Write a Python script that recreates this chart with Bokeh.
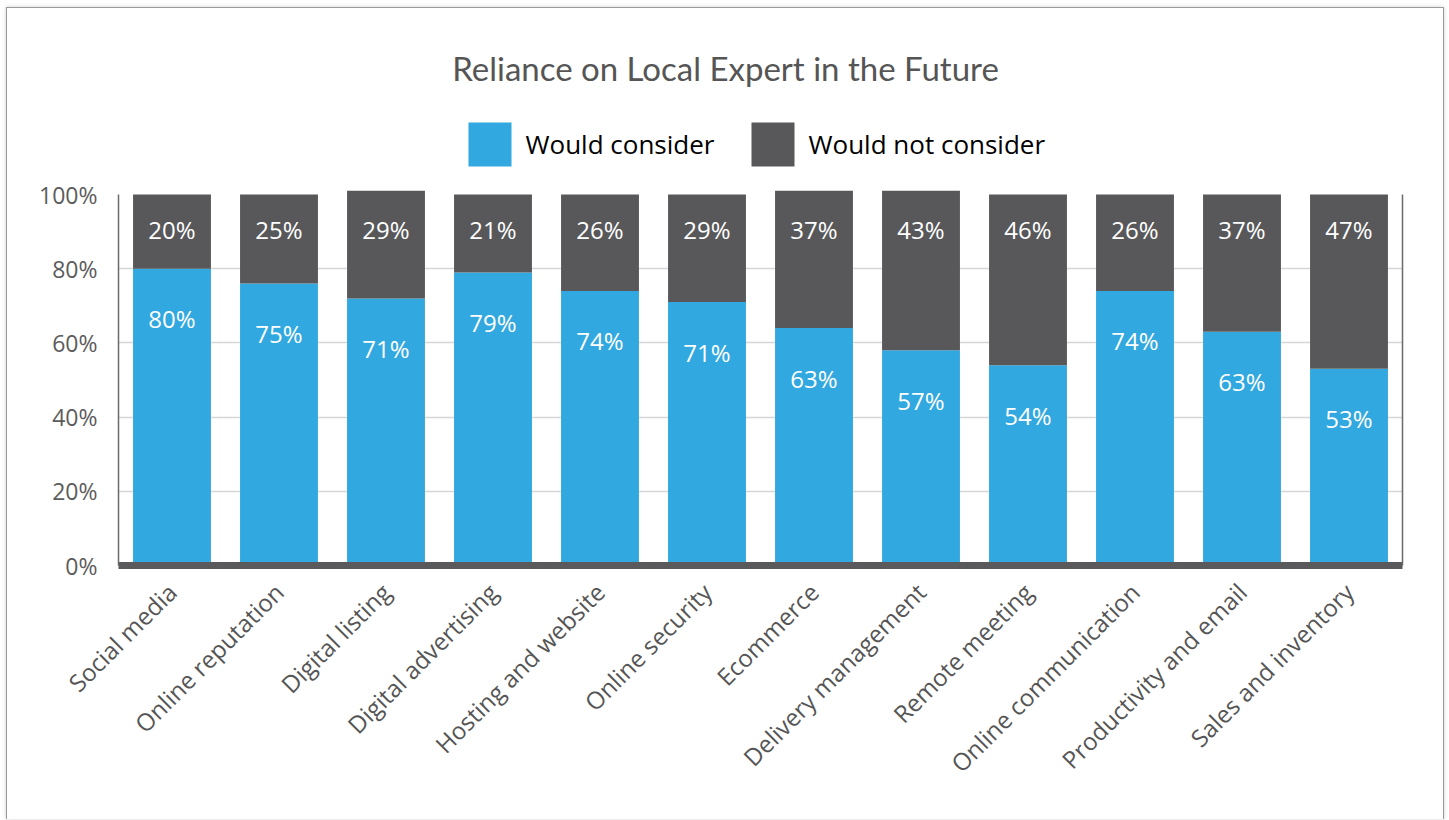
import numpy as np
from bokeh.plotting import figure
from bokeh.models import (ColumnDataSource, FactorRange, Range1d, FixedTicker,
                          LinearAxis, Label, BoxAnnotation, CustomJSTickFormatter)
from bokeh.core.properties import value
from bokeh.embed import file_html
from bokeh.resources import INLINE

categories = ["Social media", "Online reputation", "Digital listing", "Digital advertising",
              "Hosting and website", "Online security", "Ecommerce", "Delivery management",
              "Remote meeting", "Online communication", "Productivity and email",
              "Sales and inventory"]
# bar heights as drawn (percent)
would_consider = [80, 76, 72, 79, 74, 71, 64, 58, 54, 74, 63, 53]
would_not_consider = [20, 24, 29, 21, 26, 29, 37, 43, 46, 26, 37, 47]
# printed data labels
consider_labels = [80, 75, 71, 79, 74, 71, 63, 57, 54, 74, 63, 53]
not_consider_labels = [20, 25, 29, 21, 26, 29, 37, 43, 46, 26, 37, 47]
y_ticks = [0, 20, 40, 60, 80, 100]
title_text = "Reliance on Local Expert in the Future"
series_names = ["Would consider", "Would not consider"]

BLUE = "#31a8e0"
GRAY = "#58585a"

src = ColumnDataSource(dict(
    cat=categories,
    c=would_consider,
    top=[a + b for a, b in zip(would_consider, would_not_consider)],
    clab=[f"{v}%" for v in consider_labels],
    nlab=[f"{v}%" for v in not_consider_labels],
    full=[100] * len(categories),
))

# page geometry (page pixels)
ORIGIN_X, ORIGIN_Y = 7, 8
W, H = 1438, 812
FRAME_L, FRAME_R, FRAME_T, FRAME_B = 118, 1402, 20, 565
PX_PER_UNIT = (565 - 194) / 100.0
y_end = (FRAME_B - FRAME_T) / PX_PER_UNIT

p = figure(width=W, height=H, x_range=FactorRange(*categories, range_padding=0),
           y_range=Range1d(0, y_end), output_backend="svg", toolbar_location=None,
           min_border_left=FRAME_L - ORIGIN_X, min_border_right=ORIGIN_X + W - FRAME_R,
           min_border_top=FRAME_T - ORIGIN_Y, min_border_bottom=ORIGIN_Y + H - FRAME_B)
p.styles = {"margin-left": "6px", "margin-top": "7px",
            "border-left": "1px solid #9a9a9a", "border-top": "1px solid #9a9a9a",
            "border-right": "1px solid #9a9a9a",
            "box-shadow": "0 0 4px #d0d0d0"}
p.outline_line_color = None
p.background_fill_color = "white"
p.border_fill_color = "white"

p.vbar(x="cat", bottom=0, top="c", width=0.728, source=src, fill_color=BLUE, line_color=None)
p.vbar(x="cat", bottom="c", top="top", width=0.728, source=src, fill_color=GRAY, line_color=None)

p.text(x="cat", y="c", text="clab", source=src, y_offset=50, text_align="center",
       text_baseline="middle", text_color="white", text_font=value("Open Sans"),
       text_font_size="24px")
p.text(x="cat", y="full", text="nlab", source=src, y_offset=35, text_align="center",
       text_baseline="middle", text_color="white", text_font=value("Open Sans"),
       text_font_size="24px")

# grid
p.xgrid.grid_line_color = None
p.ygrid.ticker = FixedTicker(ticks=[20, 40, 60, 80])
p.ygrid.grid_line_color = "#d6d6d6"
p.ygrid.grid_line_width = 1.5

# y axis (left)
yax = p.yaxis[0]
yax.ticker = FixedTicker(ticks=y_ticks)
yax.formatter = CustomJSTickFormatter(code="return tick + '%';")
yax.bounds = (0, 100)
yax.axis_line_color = "#6a6a6a"
yax.axis_line_width = 1.5
yax.major_tick_line_color = None
yax.minor_tick_line_color = None
yax.major_tick_out = 0
yax.major_tick_in = 0
yax.major_label_standoff = 21
yax.major_label_text_font = "Open Sans"
yax.major_label_text_font_size = "23px"
yax.major_label_text_color = "#5c5c5c"

# right frame line
rax = LinearAxis(ticker=FixedTicker(ticks=y_ticks), bounds=(0, 100))
rax.axis_line_color = "#6a6a6a"
rax.axis_line_width = 1.5
rax.major_tick_line_color = None
rax.minor_tick_line_color = None
rax.major_label_text_font_size = "0px"
rax.major_label_text_color = None
p.add_layout(rax, "right")

# x axis
xax = p.xaxis[0]
xax.axis_line_color = "#5a5a5c"
xax.axis_line_width = 7
xax.major_tick_line_color = None
xax.major_tick_out = 0
xax.major_tick_in = 0
xax.major_label_orientation = np.pi / 4
xax.major_label_standoff = 22
xax.major_label_text_font = "Open Sans"
xax.major_label_text_font_size = "24px"
xax.major_label_text_color = "#555555"


def sx(page_x):
    return page_x - FRAME_L


def sy(page_y):
    return FRAME_B - page_y


p.add_layout(Label(x=sx(725), y=sy(67), x_units="screen", y_units="screen",
                   text=title_text, text_align="center", text_baseline="middle",
                   text_font="Lato", text_font_size="33px", text_color="#555555"))

legend_x = [468, 751]
for name, col, px in zip(series_names, [BLUE, GRAY], legend_x):
    p.add_layout(BoxAnnotation(left=sx(px), right=sx(px + 43), bottom=sy(166), top=sy(122),
                               left_units="screen", right_units="screen",
                               bottom_units="screen", top_units="screen",
                               fill_color=col, fill_alpha=1, line_color=None))
    p.add_layout(Label(x=sx(px + 57), y=sy(143), x_units="screen", y_units="screen",
                       text=name, text_align="left", text_baseline="middle",
                       text_font="Open Sans", text_font_size="26px", text_color="#000000"))

open("out.html", "w").write(file_html(p, INLINE))
